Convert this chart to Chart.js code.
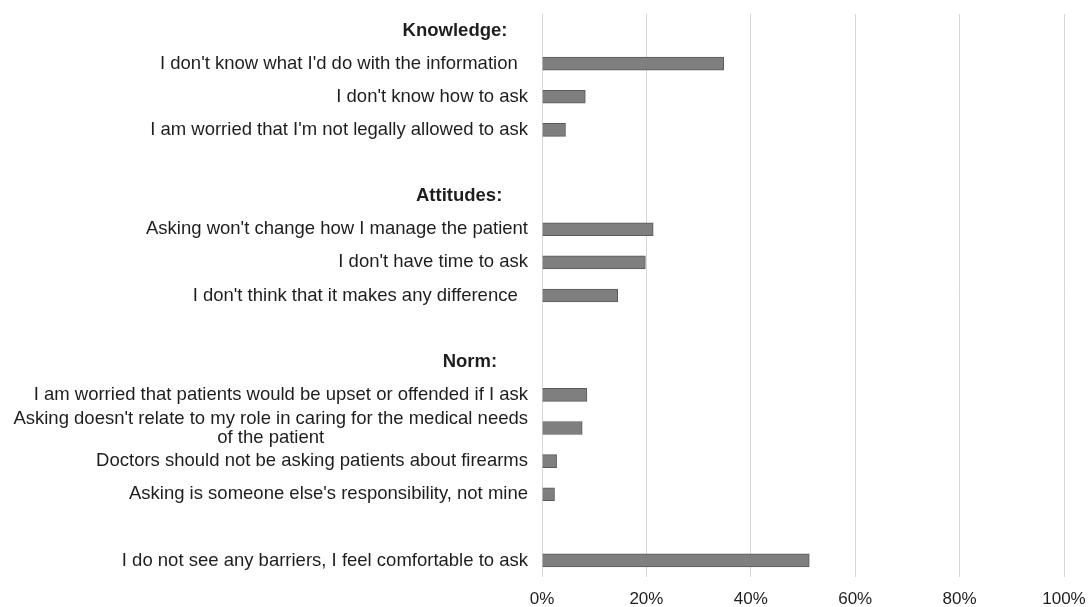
<!DOCTYPE html>
<html>
<head>
<meta charset="utf-8">
<script src="https://cdn.jsdelivr.net/npm/chart.js@4.4.1/dist/chart.umd.min.js"></script>
<style>
  body { margin: 0; background: #fff; }
  #contenedor { width: 1090px; height: 607px; position: relative; }
</style>
</head>
<body>
<div id="contenedor"><canvas id="myChart"></canvas></div>
<script>
// Etiquetas de las filas (las filas vacías separan los grupos)
const etiquetas = [
  'Knowledge:    ',
  "I don't know what I'd do with the information  ",
  "I don't know how to ask",
  "I am worried that I'm not legally allowed to ask",
  '',
  'Attitudes:     ',
  "Asking won't change how I manage the patient",
  "I don't have time to ask",
  "I don't think that it makes any difference  ",
  '',
  'Norm:      ',
  'I am worried that patients would be upset or offended if I ask',
  ["Asking doesn't relate to my role in caring for the medical needs", 'of the patient'],
  'Doctors should not be asking patients about firearms',
  "Asking is someone else's responsibility, not mine",
  '',
  'I do not see any barriers, I feel comfortable to ask'
];

// Filas que son títulos de grupo
const titulos = ['Knowledge:    ', 'Attitudes:     ', 'Norm:      '];

// Porcentaje de respuestas por barrera
const porcentajes = [null, 34.8, 8.3, 4.5, null, null, 21.3, 19.8, 14.5, null, null, 8.6, 7.7, 2.8, 2.4, null, 51.2];

// Marcas del eje x
const marcasX = [0, 20, 40, 60, 80, 100];

// Dibuja las etiquetas del eje y (centrando la segunda línea como en el original)
const pluginEtiquetas = {
  id: 'etiquetas',
  afterDraw(chart) {
    const ctx = chart.ctx;
    const ejeY = chart.scales.y;
    const derecha = chart.chartArea.left - 14;
    ctx.save();
    ctx.fillStyle = '#1e1e1e';
    ctx.textBaseline = 'middle';
    etiquetas.forEach((etiqueta, i) => {
      if (!etiqueta) return;
      const lineas = Array.isArray(etiqueta) ? etiqueta : [etiqueta];
      const esTitulo = titulos.includes(etiqueta);
      ctx.font = (esTitulo ? 'bold ' : '') + '18.5px "Liberation Sans", Arial, sans-serif';
      const ancho = Math.max(...lineas.map(l => ctx.measureText(l).width));
      const centroX = derecha - ancho / 2;
      const y = ejeY.getPixelForValue(i);
      const altoLinea = 19;
      ctx.textAlign = 'center';
      lineas.forEach((linea, j) => {
        const dy = (j - (lineas.length - 1) / 2) * altoLinea;
        ctx.fillText(linea, centroX, y + dy);
      });
    });
    ctx.restore();
  }
};

const ctx = document.getElementById('myChart').getContext('2d');
const chartInstance = new Chart(ctx, {
  type: 'bar',
  data: {
    labels: etiquetas,
    datasets: [{
      data: porcentajes,
      backgroundColor: '#7f7f7f',
      borderColor: '#5a5a5a',
      borderWidth: 1,
      barThickness: 13
    }]
  },
  options: {
    indexAxis: 'y',
    responsive: true,
    maintainAspectRatio: false,
    animation: false,
    layout: {
      padding: { left: 542, right: 26, top: 14, bottom: 0 }
    },
    plugins: {
      legend: { display: false },
      tooltip: { enabled: false }
    },
    scales: {
      x: {
        min: 0,
        max: 100,
        afterBuildTicks: scale => {
          scale.ticks = marcasX.map(v => ({ value: v }));
        },
        afterFit: scale => {
          scale.height = 30;
          scale.paddingLeft = 0;
          scale.paddingRight = 0;
        },
        grid: { color: '#d6d6d6', lineWidth: 1, drawTicks: false },
        border: { display: false },
        ticks: {
          padding: 12,
          color: '#1e1e1e',
          font: { family: '"Liberation Sans", Arial, sans-serif', size: 17 },
          callback: v => v + '%'
        }
      },
      y: {
        display: false
      }
    }
  },
  plugins: [pluginEtiquetas]
});
</script>
</body>
</html>
